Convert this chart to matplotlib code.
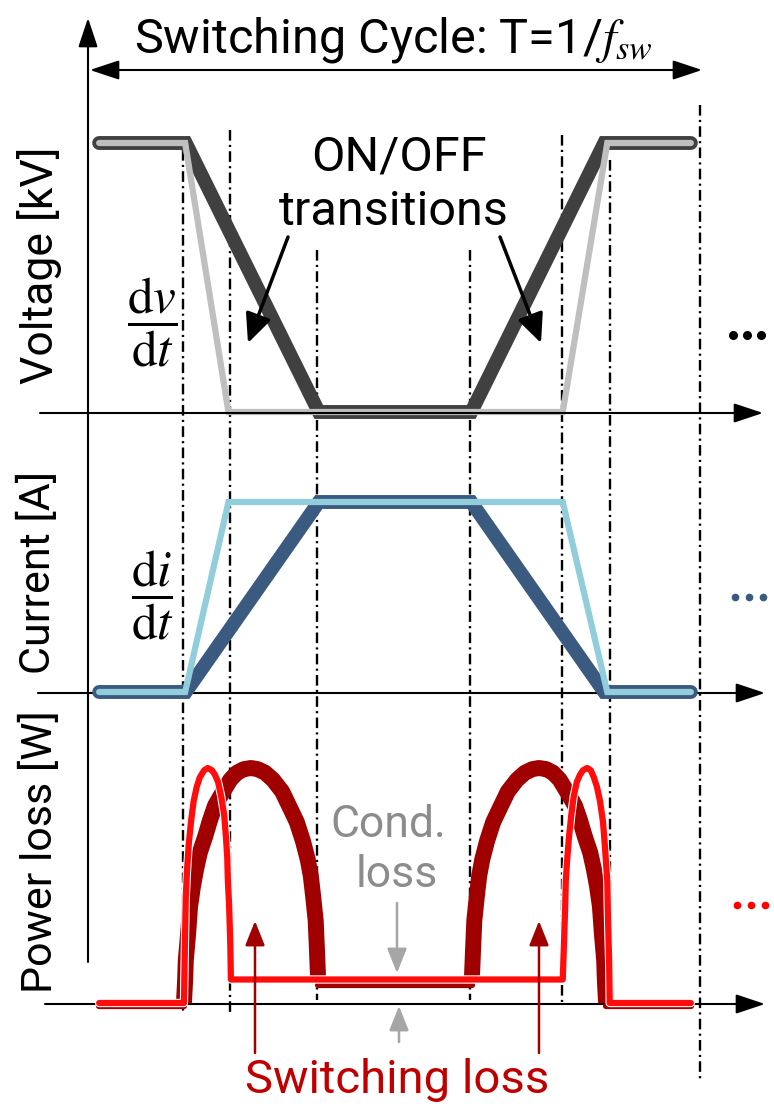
import matplotlib
matplotlib.use('Agg')
import matplotlib.pyplot as plt
import matplotlib.patheffects as pe
import numpy as np

plt.rcParams['font.family'] = ['Roboto', 'DejaVu Sans']
plt.rcParams['mathtext.fontset'] = 'stix'

# ---------------- data (time as fraction of switching period T) ----------------
t_slow = [0.015, 0.157, 0.375, 0.625, 0.843, 0.985]
t_fast = [0.015, 0.156, 0.227, 0.775, 0.848, 0.985]
v_slow = [1, 1, 0, 0, 1, 1]
v_fast = [1, 1, 0, 0, 1, 1]
i_slow = [0, 0, 1, 1, 0, 0]
i_fast = [0, 0, 1, 1, 0, 0]

# power loss, normalised to the switching-loss peak
p_fast_t = [0.015, 0.154, 0.155, 0.156, 0.157, 0.159, 0.162, 0.166, 0.170, 0.175, 0.180, 0.187, 0.193,
            0.200, 0.205, 0.210, 0.215, 0.220, 0.223, 0.225, 0.226, 0.228, 0.230, 0.231,
            0.775, 0.777, 0.779, 0.780, 0.782, 0.785, 0.789, 0.793, 0.798, 0.803, 0.808, 0.815,
            0.821, 0.826, 0.831, 0.836, 0.841, 0.844, 0.848, 0.849, 0.851, 0.852, 0.985]
p_fast = [0, 0, 0.15, 0.31, 0.45, 0.56, 0.68, 0.78, 0.86, 0.92, 0.96, 0.99, 1.0,
          0.99, 0.97, 0.94, 0.88, 0.80, 0.70, 0.62, 0.52, 0.42, 0.25, 0.10,
          0.10, 0.25, 0.41, 0.52, 0.60, 0.70, 0.80, 0.88, 0.94, 0.97, 0.99, 1.0,
          0.99, 0.96, 0.92, 0.86, 0.77, 0.67, 0.52, 0.38, 0.18, 0, 0]

p_slow_on_t = [0.154, 0.156, 0.157, 0.161, 0.164, 0.169, 0.174, 0.180, 0.189, 0.197, 0.205, 0.216, 0.230,
               0.241, 0.252, 0.264, 0.275, 0.287, 0.300, 0.315, 0.328, 0.339, 0.349, 0.357, 0.362,
               0.366, 0.370, 0.372, 0.374]
p_slow_on = [0, 0.10, 0.18, 0.30, 0.41, 0.50, 0.57, 0.64, 0.71, 0.78, 0.84, 0.89, 0.95,
             0.98, 0.995, 1.0, 0.995, 0.98, 0.95, 0.90, 0.83, 0.77, 0.69, 0.61, 0.54,
             0.45, 0.35, 0.23, 0.10]
p_slow_off_t = [0.626, 0.628, 0.630, 0.634, 0.638, 0.643, 0.651, 0.661, 0.672, 0.685, 0.700, 0.713, 0.725,
                0.736, 0.748, 0.759, 0.770, 0.784, 0.795, 0.803, 0.811, 0.820, 0.826, 0.831, 0.836,
                0.839, 0.843, 0.844, 0.846]
p_slow_off = [0.10, 0.23, 0.35, 0.45, 0.54, 0.61, 0.69, 0.77, 0.83, 0.90, 0.95, 0.98, 0.995,
              1.0, 0.995, 0.98, 0.95, 0.89, 0.84, 0.78, 0.71, 0.64, 0.57, 0.50, 0.41,
              0.30, 0.18, 0.10, 0]
p_slow_flat_t = [0.015, 0.154, np.nan, 0.374, 0.626, np.nan, 0.846, 0.985]
p_slow_flat = [-0.013, -0.013, np.nan, 0.077, 0.077, np.nan, -0.013, -0.013]

# transition instants (dash-dot markers)
t_marks = [0.152, 0.230, 0.372, 0.623, 0.774, 0.852, 1.0]

# ---------------- colours ----------------
C_VS, C_VF = '#404040', '#bfbfbf'
C_IS, C_IF = '#3a5a80', '#92cddc'
C_PS, C_PF = '#a00000', '#ff0d0d'

W, H = 774, 1107
fig = plt.figure(figsize=(W / 100, H / 100), dpi=100)

def overlay(label, z):
    ax = fig.add_axes([0, 0, 1, 1], zorder=z, label=label)
    ax.set_xlim(0, W)
    ax.set_ylim(H, 0)
    ax.axis('off')
    ax.patch.set_alpha(0)
    return ax

X0, X1 = 90, 700  # pixel span of one period

def panel(label, y_zero, y_one, z):
    ax = fig.add_axes([X0 / W, 1 - y_zero / H, (X1 - X0) / W, (y_zero - y_one) / H], zorder=z, label=label)
    ax.set_xlim(0, 1)
    ax.set_ylim(0, 1)
    ax.axis('off')
    ax.patch.set_alpha(0)
    return ax

bg = overlay('bg', 0)
bgt = fig.add_axes([X0 / W, 0, (X1 - X0) / W, 1], zorder=0.5, label='bgt')
bgt.set_xlim(0, 1)
bgt.set_ylim(H, 0)
bgt.axis('off')
bgt.patch.set_alpha(0)

axv = panel('v', 412, 143, 1)
axi = panel('i', 692, 502, 1)
axp = panel('p', 1003, 768, 1)
fg = overlay('fg', 3)

# dash-dot lines
tops = [150, 130, 250, 250, 135, 160, 105]
bots = [1013, 1013, 1000, 1000, 1005, 1010, 1080]
for tm, a, b in zip(t_marks, tops, bots):
    bgt.plot([tm, tm], [a, b], color='black', lw=1.7, ls=(0, (4.5, 1.8, 0.9, 1.8)), clip_on=False)

# axes arrows
ax_arrow = dict(arrowstyle='-|>,head_length=1.2,head_width=0.4', mutation_scale=15, color='black', lw=1.5,
                shrinkA=0, shrinkB=0)
bg.annotate('', xy=(88, 18), xytext=(88, 962), arrowprops=ax_arrow)
bg.annotate('', xy=(765, 693), xytext=(38, 693), arrowprops=ax_arrow)
bg.annotate('', xy=(765, 1004), xytext=(45, 1004), arrowprops=ax_arrow)
fg.annotate('', xy=(763, 413), xytext=(40, 413), arrowprops=ax_arrow)
bg.annotate('', xy=(90, 70), xytext=(702, 70),
            arrowprops=dict(arrowstyle='<|-|>,head_length=1.2,head_width=0.4', mutation_scale=15,
                            color='black', lw=1.5, shrinkA=0, shrinkB=0))

# voltage
axv.plot(t_slow, v_slow, color=C_VS, lw=10, solid_joinstyle='miter', solid_capstyle='round', clip_on=False)
axv.plot(t_fast, v_fast, color=C_VF, lw=4.5, solid_joinstyle='miter', solid_capstyle='round', clip_on=False)
# current
axi.plot(t_slow, i_slow, color=C_IS, lw=10, solid_joinstyle='miter', solid_capstyle='round', clip_on=False)
axi.plot(t_fast, i_fast, color=C_IF, lw=4.5, solid_joinstyle='miter', solid_capstyle='round', clip_on=False)
# power
axp.plot(p_slow_flat_t, p_slow_flat, color=C_PS, lw=4.5, solid_capstyle='round', clip_on=False)
axp.plot(p_slow_on_t, p_slow_on, color=C_PS, lw=11.5, solid_capstyle='butt', solid_joinstyle='round', clip_on=False)
axp.plot(p_slow_off_t, p_slow_off, color=C_PS, lw=11.5, solid_capstyle='butt', solid_joinstyle='round', clip_on=False)
axp.plot(p_fast_t, p_fast, color=C_PF, lw=4.5, solid_capstyle='round', solid_joinstyle='round', clip_on=False,
         path_effects=[pe.Stroke(linewidth=6, foreground='white'), pe.Normal()])

# texts
fg.text(393, 40, r'Switching Cycle: T=1/$f_{sw}$', ha='center', va='center', fontsize=35)
fg.text(40, 265, 'Voltage [kV]', rotation=90, ha='center', va='center', fontsize=32)
fg.text(38, 572, 'Current [A]', rotation=90, ha='center', va='center', fontsize=31)
fg.text(40, 852, 'Power loss [W]', rotation=90, ha='center', va='center', fontsize=31)
fg.text(399, 157, 'ON/OFF', ha='center', va='center', fontsize=35)
fg.text(394, 212, 'transitions', ha='center', va='center', fontsize=35)
fg.text(152, 322, r'$\dfrac{\mathrm{d}v}{\mathrm{d}t}$', ha='center', va='center', fontsize=37)
fg.text(152, 595, r'$\dfrac{\mathrm{d}i}{\mathrm{d}t}$', ha='center', va='center', fontsize=37)
fg.text(388, 825, 'Cond.', ha='center', va='center', fontsize=32, color='#8c8c8c')
fg.text(397, 875, 'loss', ha='center', va='center', fontsize=32, color='#8c8c8c')
fg.text(397, 1080, 'Switching loss', ha='center', va='center', fontsize=34, color='#c00000')

# annotation arrows
blk = dict(arrowstyle='-|>,head_length=1.1,head_width=0.5', mutation_scale=16, color='black', lw=2.5,
           shrinkA=0, shrinkB=0)
fg.annotate('', xy=(248, 343), xytext=(288, 237), arrowprops=blk)
fg.annotate('', xy=(541, 343), xytext=(500, 237), arrowprops=blk)
gry = dict(arrowstyle='-|>,head_length=1.0,head_width=0.4', mutation_scale=15, color='#a6a6a6', lw=1.8,
           shrinkA=0, shrinkB=0)
fg.annotate('', xy=(397, 973), xytext=(397, 903), arrowprops=gry)
fg.annotate('', xy=(399, 1006), xytext=(399, 1042), arrowprops=gry)
red = dict(arrowstyle='-|>,head_length=1.0,head_width=0.4', mutation_scale=15, color='#a00000', lw=1.8,
           shrinkA=0, shrinkB=0)
fg.annotate('', xy=(255, 921), xytext=(255, 1053), arrowprops=red)
fg.annotate('', xy=(539, 921), xytext=(539, 1053), arrowprops=red)

# continuation dots
fg.plot([733, 747, 761], [335, 335, 335], 'o', color='black', ms=5.5)
fg.plot([735, 749, 763], [597, 597, 597], 'o', color=C_IS, ms=4.5)
fg.plot([737, 751, 765], [905, 905, 905], 'o', color='#ff0000', ms=4.5)

fig.savefig('out.png', dpi=100)
